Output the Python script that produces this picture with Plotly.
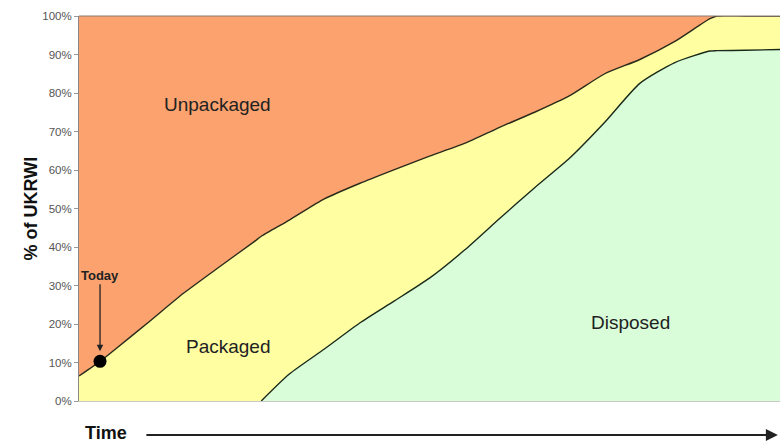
import plotly.graph_objects as go

# Time index (arbitrary units, no tick labels on the axis)
time = [0, 3, 5, 10, 15, 20, 25, 26, 30, 35, 40, 45, 50, 55, 60, 65, 70, 75, 80, 85, 90, 91, 95, 100]
# Share of UKRWI (%) by state
disposed = [0, 0, 0, 0, 0, 0, 0, 0, 7.0, 13.5, 20.2, 26.0, 31.9, 39.2, 47.4, 55.4, 63.1, 72.4, 82.5, 87.9, 90.9, 91.0, 91.1, 91.3]
packaged = [6.5, 10.3, 13.2, 20.6, 28.1, 34.8, 41.4, 42.8, 40.0, 39.0, 36.3, 34.1, 31.7, 27.7, 23.7, 19.6, 16.2, 12.6, 6.2, 5.5, 8.4, 9.0, 8.9, 8.7]
unpackaged = [round(100 - d - p, 1) for d, p in zip(disposed, packaged)]

today_time = 3
today_value = 10.3

y_ticks = [0, 10, 20, 30, 40, 50, 60, 70, 80, 90, 100]
y_tick_text = [f"{v}%" for v in y_ticks]

ORANGE = "#FBA26F"
YELLOW = "#FFFFA2"
GREEN = "#D8FDD8"
FONT = "Arial, Liberation Sans, sans-serif"
SM = 0.6

fig = go.Figure()
fig.add_trace(go.Scatter(x=time, y=disposed, stackgroup="s", mode="lines",
                         line=dict(width=0, color=GREEN, shape="spline", smoothing=SM),
                         fillcolor=GREEN, name="Disposed", hoverinfo="skip"))
fig.add_trace(go.Scatter(x=time, y=packaged, stackgroup="s", mode="lines",
                         line=dict(width=1.4, color="#2a2a1a", shape="spline", smoothing=SM),
                         fillcolor=YELLOW, name="Packaged", hoverinfo="skip"))
fig.add_trace(go.Scatter(x=time, y=unpackaged, stackgroup="s", mode="lines",
                         line=dict(width=0, color=ORANGE, shape="spline", smoothing=SM),
                         fillcolor=ORANGE, name="Unpackaged", hoverinfo="skip"))

# boundary line on top of the disposed area (only where it exists)
start = next(i for i, v in enumerate(disposed) if v > 0) - 1
fig.add_trace(go.Scatter(x=time[start:], y=disposed[start:], mode="lines",
                         line=dict(width=1.4, color="#1a2a1a", shape="spline", smoothing=SM),
                         hoverinfo="skip", showlegend=False))

# Today marker
fig.add_trace(go.Scatter(x=[today_time], y=[today_value], mode="markers",
                         marker=dict(size=13, color="black"), hoverinfo="skip",
                         showlegend=False))

fig.update_layout(
    width=780, height=442,
    margin=dict(l=79, r=0, t=16, b=41),
    paper_bgcolor="white", plot_bgcolor="white",
    showlegend=False,
    font=dict(family=FONT, color="#222"),
    xaxis=dict(range=[0, 100], showticklabels=False, ticks="", showgrid=False,
               zeroline=False, showline=True, linecolor="#c8c8c8", linewidth=1,
               mirror=False),
    yaxis=dict(range=[0, 100], tickvals=y_ticks, ticktext=y_tick_text,
               ticks="outside", ticklen=4, tickcolor="#999",
               tickfont=dict(size=11.5, color="#555", family=FONT),
               showgrid=False, zeroline=False, showline=True,
               linecolor="#888", linewidth=1),
)

# top border
fig.add_shape(type="line", xref="paper", yref="paper", x0=0, x1=1, y0=1, y1=1,
              line=dict(color="#8a7a70", width=1))

# region labels
fig.add_annotation(x=19.7, y=76.9, text="Unpackaged", showarrow=False,
                   font=dict(size=19, color="#222", family=FONT))
fig.add_annotation(x=21.3, y=14.2, text="Packaged", showarrow=False,
                   font=dict(size=19, color="#222", family=FONT))
fig.add_annotation(x=78.7, y=20.4, text="Disposed", showarrow=False,
                   font=dict(size=19, color="#222", family=FONT))

# Today arrow
fig.add_annotation(x=today_time, y=12.9, text="<b>Today</b>", showarrow=True,
                   ax=0, ay=-76, arrowhead=2, arrowsize=1, arrowwidth=1.3,
                   arrowcolor="#222", font=dict(size=13, color="#222", family=FONT))

# y axis title
fig.add_annotation(xref="paper", yref="paper", x=-0.087, y=0.50,
                   text="<b>% of UKRWI</b>", textangle=-90, showarrow=False,
                   font=dict(size=18, color="#111", family=FONT))

# Time axis label and arrow
fig.add_annotation(xref="paper", yref="paper", x=0.0385, y=-0.083,
                   xanchor="center", yanchor="middle",
                   text="<b>Time</b>", showarrow=False,
                   font=dict(size=18, color="#111", family=FONT))
fig.add_annotation(xref="paper", yref="paper", x=0.997, y=-0.0883, text="",
                   showarrow=True, ax=-633, ay=0, arrowhead=2, arrowsize=1.2,
                   arrowwidth=2, arrowcolor="#222")

fig.write_html("out.html")
